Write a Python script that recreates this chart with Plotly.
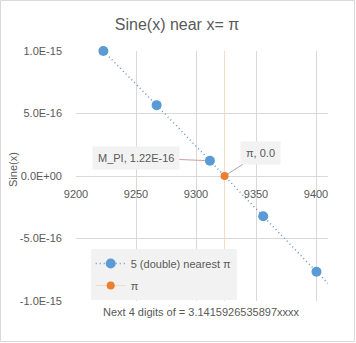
import numpy as np
import plotly.graph_objects as go

# ---- data ----
digits_x = [9222.8, 9267.2, 9311.6, 9356.0, 9400.4]
sine_y = [1.0e-15, 5.67e-16, 1.22e-16, -3.22e-16, -7.66e-16]
pi_x = 9323.8
pi_y = 0.0
x_ticks = [9200, 9250, 9300, 9350, 9400]
y_tickvals = [1e-15, 5e-16, 0, -5e-16, -1e-15]
y_ticktext = ["1.0E-15", "5.0E-16", "0.0E+00", "-5.0E-16", "-1.0E-15"]
x_range = [9200, 9410]
y_range = [-1e-15, 1e-15]

W, H = 356, 343
L, R, T, B = 76, 28, 51, 42
pw, ph = W - L - R, H - T - B

FONT = "Liberation Sans, Arial, sans-serif"
GREY = "#595959"
BLUE = "#5b9bd5"
DOTC = "#6a96bd"
ORANGE = "#ed7d31"
LORANGE = "#fad9c4"

fig = go.Figure()

# trendline extension (linear fit) to the right edge
coef = np.polyfit(digits_x, sine_y, 1)
tx = np.array([digits_x[-1], x_range[1]])
fig.add_trace(go.Scatter(x=tx, y=np.polyval(coef, tx), mode="lines",
                         line=dict(color=DOTC, width=1.5, dash="1px,3px"),
                         showlegend=False, hoverinfo="skip", cliponaxis=False))

# pi vertical line
fig.add_trace(go.Scatter(x=[pi_x, pi_x], y=y_range, mode="lines",
                         line=dict(color=LORANGE, width=1),
                         showlegend=False, hoverinfo="skip"))

fig.add_trace(go.Scatter(x=digits_x, y=sine_y, mode="lines+markers",
                         name="5 (double) nearest π", legendgroup="a",
                         line=dict(color=DOTC, width=1.5, dash="1px,3px"),
                         marker=dict(color=BLUE, size=10), cliponaxis=False))

fig.add_trace(go.Scatter(x=[pi_x], y=[pi_y], mode="lines+markers",
                         name="π", legendgroup="b",
                         line=dict(color=LORANGE, width=1.2),
                         marker=dict(color=ORANGE, size=8), cliponaxis=False))

fig.add_annotation(x=digits_x[2], y=sine_y[2], text="M_PI, 1.22E-16",
                   ax=-74, ay=-3, showarrow=True, arrowhead=0, arrowwidth=1,
                   arrowcolor="#d99a9a", standoff=5,
                   bgcolor="#f2f2f2", borderpad=5,
                   font=dict(family=FONT, size=11, color=GREY))
fig.add_annotation(x=pi_x, y=pi_y, text="π, 0.0",
                   ax=36, ay=-23, showarrow=True, arrowhead=0, arrowwidth=1,
                   arrowcolor="#a6a6a6", standoff=4,
                   bgcolor="#f2f2f2", borderpad=5,
                   font=dict(family=FONT, size=11, color=GREY))

# titles
fig.add_annotation(xref="paper", yref="paper", x=(201 - L) / pw, y=(H - B - 311.5) / ph,
                   text="Next 4 digits of = 3.1415926535897xxxx", showarrow=False,
                   xanchor="center", yanchor="middle",
                   font=dict(family=FONT, size=11, color=GREY))
fig.add_annotation(xref="paper", yref="paper", x=(13 - L) / pw, y=(H - B - 170) / ph,
                   text="Sine(x)", showarrow=False, textangle=-90,
                   xanchor="center", yanchor="middle",
                   font=dict(family=FONT, size=11, color=GREY))

# chart border
fig.add_shape(type="rect", xref="paper", yref="paper",
              x0=(0.5 - L) / pw, x1=(354.5 - L) / pw,
              y0=(H - B - 341.5) / ph, y1=(H - B - 0.5) / ph,
              line=dict(color="#d9d9d9", width=1), layer="below")

fig.update_layout(
    width=W, height=H,
    margin=dict(l=L, r=R, t=T, b=B),
    paper_bgcolor="white", plot_bgcolor="white",
    title=dict(text="Sine(x) near x= π", x=(177) / W, xanchor="center",
               y=1 - 24 / H, yanchor="middle",
               font=dict(family=FONT, size=16, color=GREY)),
    xaxis=dict(range=x_range, tickvals=x_ticks, showgrid=True, gridcolor="#d9d9d9",
               zeroline=False, showline=False, anchor="free", position=0.5,
               ticks="", ticklabelstandoff=10,
               tickfont=dict(family=FONT, size=11, color=GREY)),
    yaxis=dict(range=y_range, tickvals=y_tickvals, ticktext=y_ticktext,
               showgrid=True, gridcolor="#d9d9d9", zeroline=True,
               zerolinecolor="#d9d9d9", zerolinewidth=1,
               showline=False, ticks="", ticklabelstandoff=13,
               tickfont=dict(family=FONT, size=11, color=GREY)),
    legend=dict(x=(90.7 - L) / pw, y=(H - B - 249) / ph, xanchor="left", yanchor="top",
                bgcolor="#f2f2f2", font=dict(family=FONT, size=11, color=GREY),
                traceorder="grouped", tracegroupgap=3),
    showlegend=True,
)

fig.write_html("out.html")
